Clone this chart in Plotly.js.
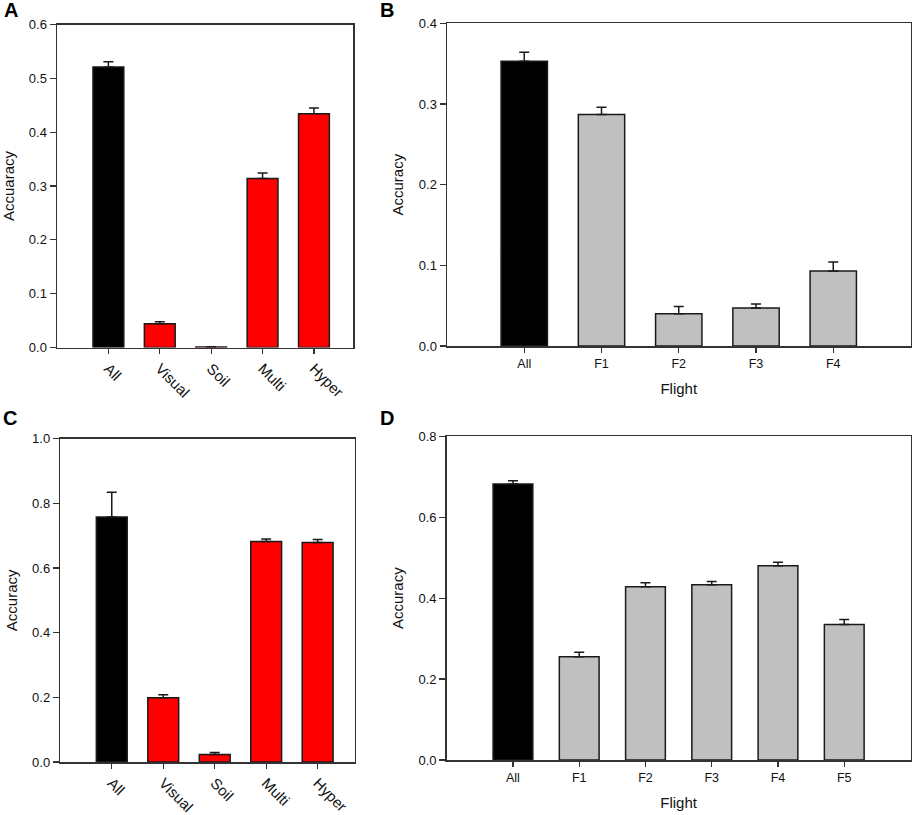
<!DOCTYPE html>
<html>
<head>
<meta charset="utf-8">
<script src="https://cdn.plot.ly/plotly-3.0.1.min.js"></script>
<style>html,body{margin:0;padding:0;background:#fff}#chart{width:913px;height:815px}</style>
</head>
<body>
<div id="chart"></div>
<script>
// Panel A (Accuaracy by data source, set 1)
const catsA = ["All", "Visual", "Soil", "Multi", "Hyper"];
const valsA = [0.521, 0.044, 0.001, 0.314, 0.434];
const errA  = [0.010, 0.004, 0.0005, 0.010, 0.011];
// Panel B (Accuracy by flight, set 1)
const catsB = ["All", "F1", "F2", "F3", "F4"];
const valsB = [0.353, 0.287, 0.040, 0.047, 0.093];
const errB  = [0.011, 0.009, 0.009, 0.005, 0.011];
// Panel C (Accuracy by data source, set 2)
const catsC = ["All", "Visual", "Soil", "Multi", "Hyper"];
const valsC = [0.758, 0.199, 0.023, 0.682, 0.679];
const errC  = [0.076, 0.009, 0.006, 0.008, 0.009];
// Panel D (Accuracy by flight, set 2)
const catsD = ["All", "F1", "F2", "F3", "F4", "F5"];
const valsD = [0.682, 0.255, 0.428, 0.433, 0.480, 0.335];
const errD  = [0.008, 0.011, 0.010, 0.008, 0.009, 0.012];

const FONT = "Arial, 'Liberation Sans', sans-serif";
const LINE = "#333333";

function colorsFor(cats, other) {
  return cats.map(c => c === "All" ? "#000000" : other);
}

function barTrace(cats, vals, errs, other, xa, ya) {
  return {
    type: "bar",
    x: cats, y: vals,
    xaxis: xa, yaxis: ya,
    width: 0.6,
    marker: { color: colorsFor(cats, other), line: { color: "#1a1a1a", width: 1.5 } },
    error_y: {
      type: "data", symmetric: false,
      array: errs, arrayminus: errs.map(() => 0),
      color: "#1a1a1a", thickness: 1.5, width: 5
    },
    hoverinfo: "x+y",
    showlegend: false
  };
}

const data = [
  barTrace(catsA, valsA, errA, "#ff0000", "x", "y"),
  barTrace(catsB, valsB, errB, "#c0c0c0", "x2", "y2"),
  barTrace(catsC, valsC, errC, "#ff0000", "x3", "y3"),
  barTrace(catsD, valsD, errD, "#c0c0c0", "x4", "y4")
];

const W = 913, H = 815;
function dx(a, b) { return [a / W, b / W]; }
function dy(top, bottom) { return [1 - bottom / H, 1 - top / H]; }

function xAxis(domain, anchor, range, rotated, title) {
  const ax = {
    domain: domain, anchor: anchor, type: "category",
    range: range,
    showline: true, linecolor: LINE, linewidth: 1.5, mirror: true,
    ticks: "outside", ticklen: 5, tickwidth: 1.3, tickcolor: LINE,
    showgrid: false, zeroline: false,
    tickfont: { family: FONT, size: rotated ? 15 : 12.5, color: "#111" },
    tickangle: rotated ? 45 : 0,
    automargin: false, fixedrange: true
  };
  if (title) ax.title = { text: title, font: { family: FONT, size: 15, color: "#111" }, standoff: 14 };
  return ax;
}

function yAxis(domain, anchor, range, dtick, title) {
  return {
    domain: domain, anchor: anchor,
    range: range, dtick: dtick, tick0: 0, tickformat: ".1f",
    showline: true, linecolor: LINE, linewidth: 1.5, mirror: true,
    ticks: "outside", ticklen: 6, tickwidth: 1.3, tickcolor: LINE,
    showgrid: false, zeroline: false,
    tickfont: { family: FONT, size: 13, color: "#111" },
    title: { text: title, font: { family: FONT, size: 15, color: "#111" }, standoff: 11 },
    automargin: false, fixedrange: true
  };
}

function letter(t, x, y) {
  return {
    text: "<b>" + t + "</b>", xref: "paper", yref: "paper",
    x: x / W, y: 1 - y / H, xanchor: "left", yanchor: "middle",
    showarrow: false, font: { family: FONT, size: 20, color: "#000" }
  };
}

const layout = {
  width: W, height: H,
  margin: { l: 0, r: 0, t: 0, b: 0 },
  paper_bgcolor: "#ffffff", plot_bgcolor: "#ffffff",
  bargap: 0.4,
  xaxis:  xAxis(dx(57, 353), "y", [-1, 4.76], true, null),
  yaxis:  yAxis(dy(24.5, 347.5), "x", [0, 0.6], 0.1, "Accuaracy"),
  xaxis2: xAxis(dx(447, 910.5), "y2", [-1, 5], false, "Flight"),
  yaxis2: yAxis(dy(23.3, 346), "x2", [0, 0.4], 0.1, "Accuracy"),
  xaxis3: xAxis(dx(60.3, 354.7), "y3", [-1, 4.72], true, null),
  yaxis3: yAxis(dy(438.7, 762), "x3", [0, 1.0], 0.2, "Accuracy"),
  xaxis4: xAxis(dx(446.7, 910.5), "y4", [-1, 6], false, "Flight"),
  yaxis4: yAxis(dy(436.3, 760), "x4", [0, 0.8], 0.2, "Accuracy"),
  annotations: [
    letter("A", 2, 10),
    letter("B", 378, 10),
    letter("C", 1, 418),
    letter("D", 378, 418)
  ]
};

Plotly.newPlot("chart", data, layout, { displayModeBar: false, staticPlot: true });
</script>
</body>
</html>
